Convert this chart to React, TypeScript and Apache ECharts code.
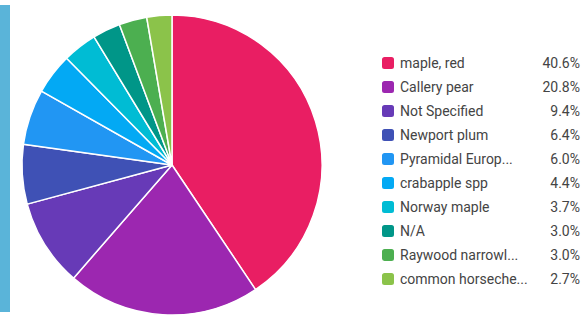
import React, { useEffect, useRef } from "react";
import * as echarts from "echarts";

const categories = [
  "maple, red",
  "Callery pear",
  "Not Specified",
  "Newport plum",
  "Pyramidal Europ...",
  "crabapple spp",
  "Norway maple",
  "N/A",
  "Raywood narrowl...",
  "common horseche...",
];
const percents = [40.6, 20.8, 9.4, 6.4, 6.0, 4.4, 3.7, 3.0, 3.0, 2.7];
const colors = [
  "#e91e63",
  "#9c27b0",
  "#673ab7",
  "#3f51b5",
  "#2196f3",
  "#03a9f4",
  "#00bcd4",
  "#009688",
  "#4caf50",
  "#8bc34a",
];

export default function App() {
  const ref = useRef<HTMLDivElement>(null);
  useEffect(() => {
    if (!ref.current) return;
    const chart = echarts.init(ref.current, null, { renderer: "svg" });
    const pctMap: Record<string, number> = {};
    categories.forEach((c, i) => (pctMap[c] = percents[i]));
    chart.setOption({
      animation: false,
      color: colors,
      graphic: [
        {
          type: "rect",
          shape: { x: 0, y: 5, width: 10, height: 307 },
          style: { fill: "#5ab4d9" },
        },
      ],
      legend: {
        orient: "vertical",
        left: 380,
        top: 55,
        padding: 0,
        icon: "roundRect",
        itemWidth: 14,
        itemHeight: 14,
        itemGap: 8,
        selectedMode: false,
        formatter: (name: string) => `{n|${name}}{p|${pctMap[name].toFixed(1)}%}`,
        textStyle: {
          rich: {
            n: { width: 140, fontSize: 14, lineHeight: 16, color: "#444", fontFamily: "Roboto" },
            p: { width: 40, align: "right", fontSize: 14, lineHeight: 16, color: "#444", fontFamily: "Roboto" },
          },
        },
        data: categories,
      },
      series: [
        {
          type: "pie",
          center: [172, 165],
          radius: 150,
          startAngle: 90,
          clockwise: true,
          label: { show: false },
          labelLine: { show: false },
          itemStyle: { borderColor: "#fff", borderWidth: 1.5 },
          data: categories.map((c, i) => ({ name: c, value: percents[i] })),
        },
      ],
    });
    return () => chart.dispose();
  }, []);
  return <div ref={ref} style={{ width: 586, height: 322, position: "absolute", left: 0, top: 0 }} />;
}
